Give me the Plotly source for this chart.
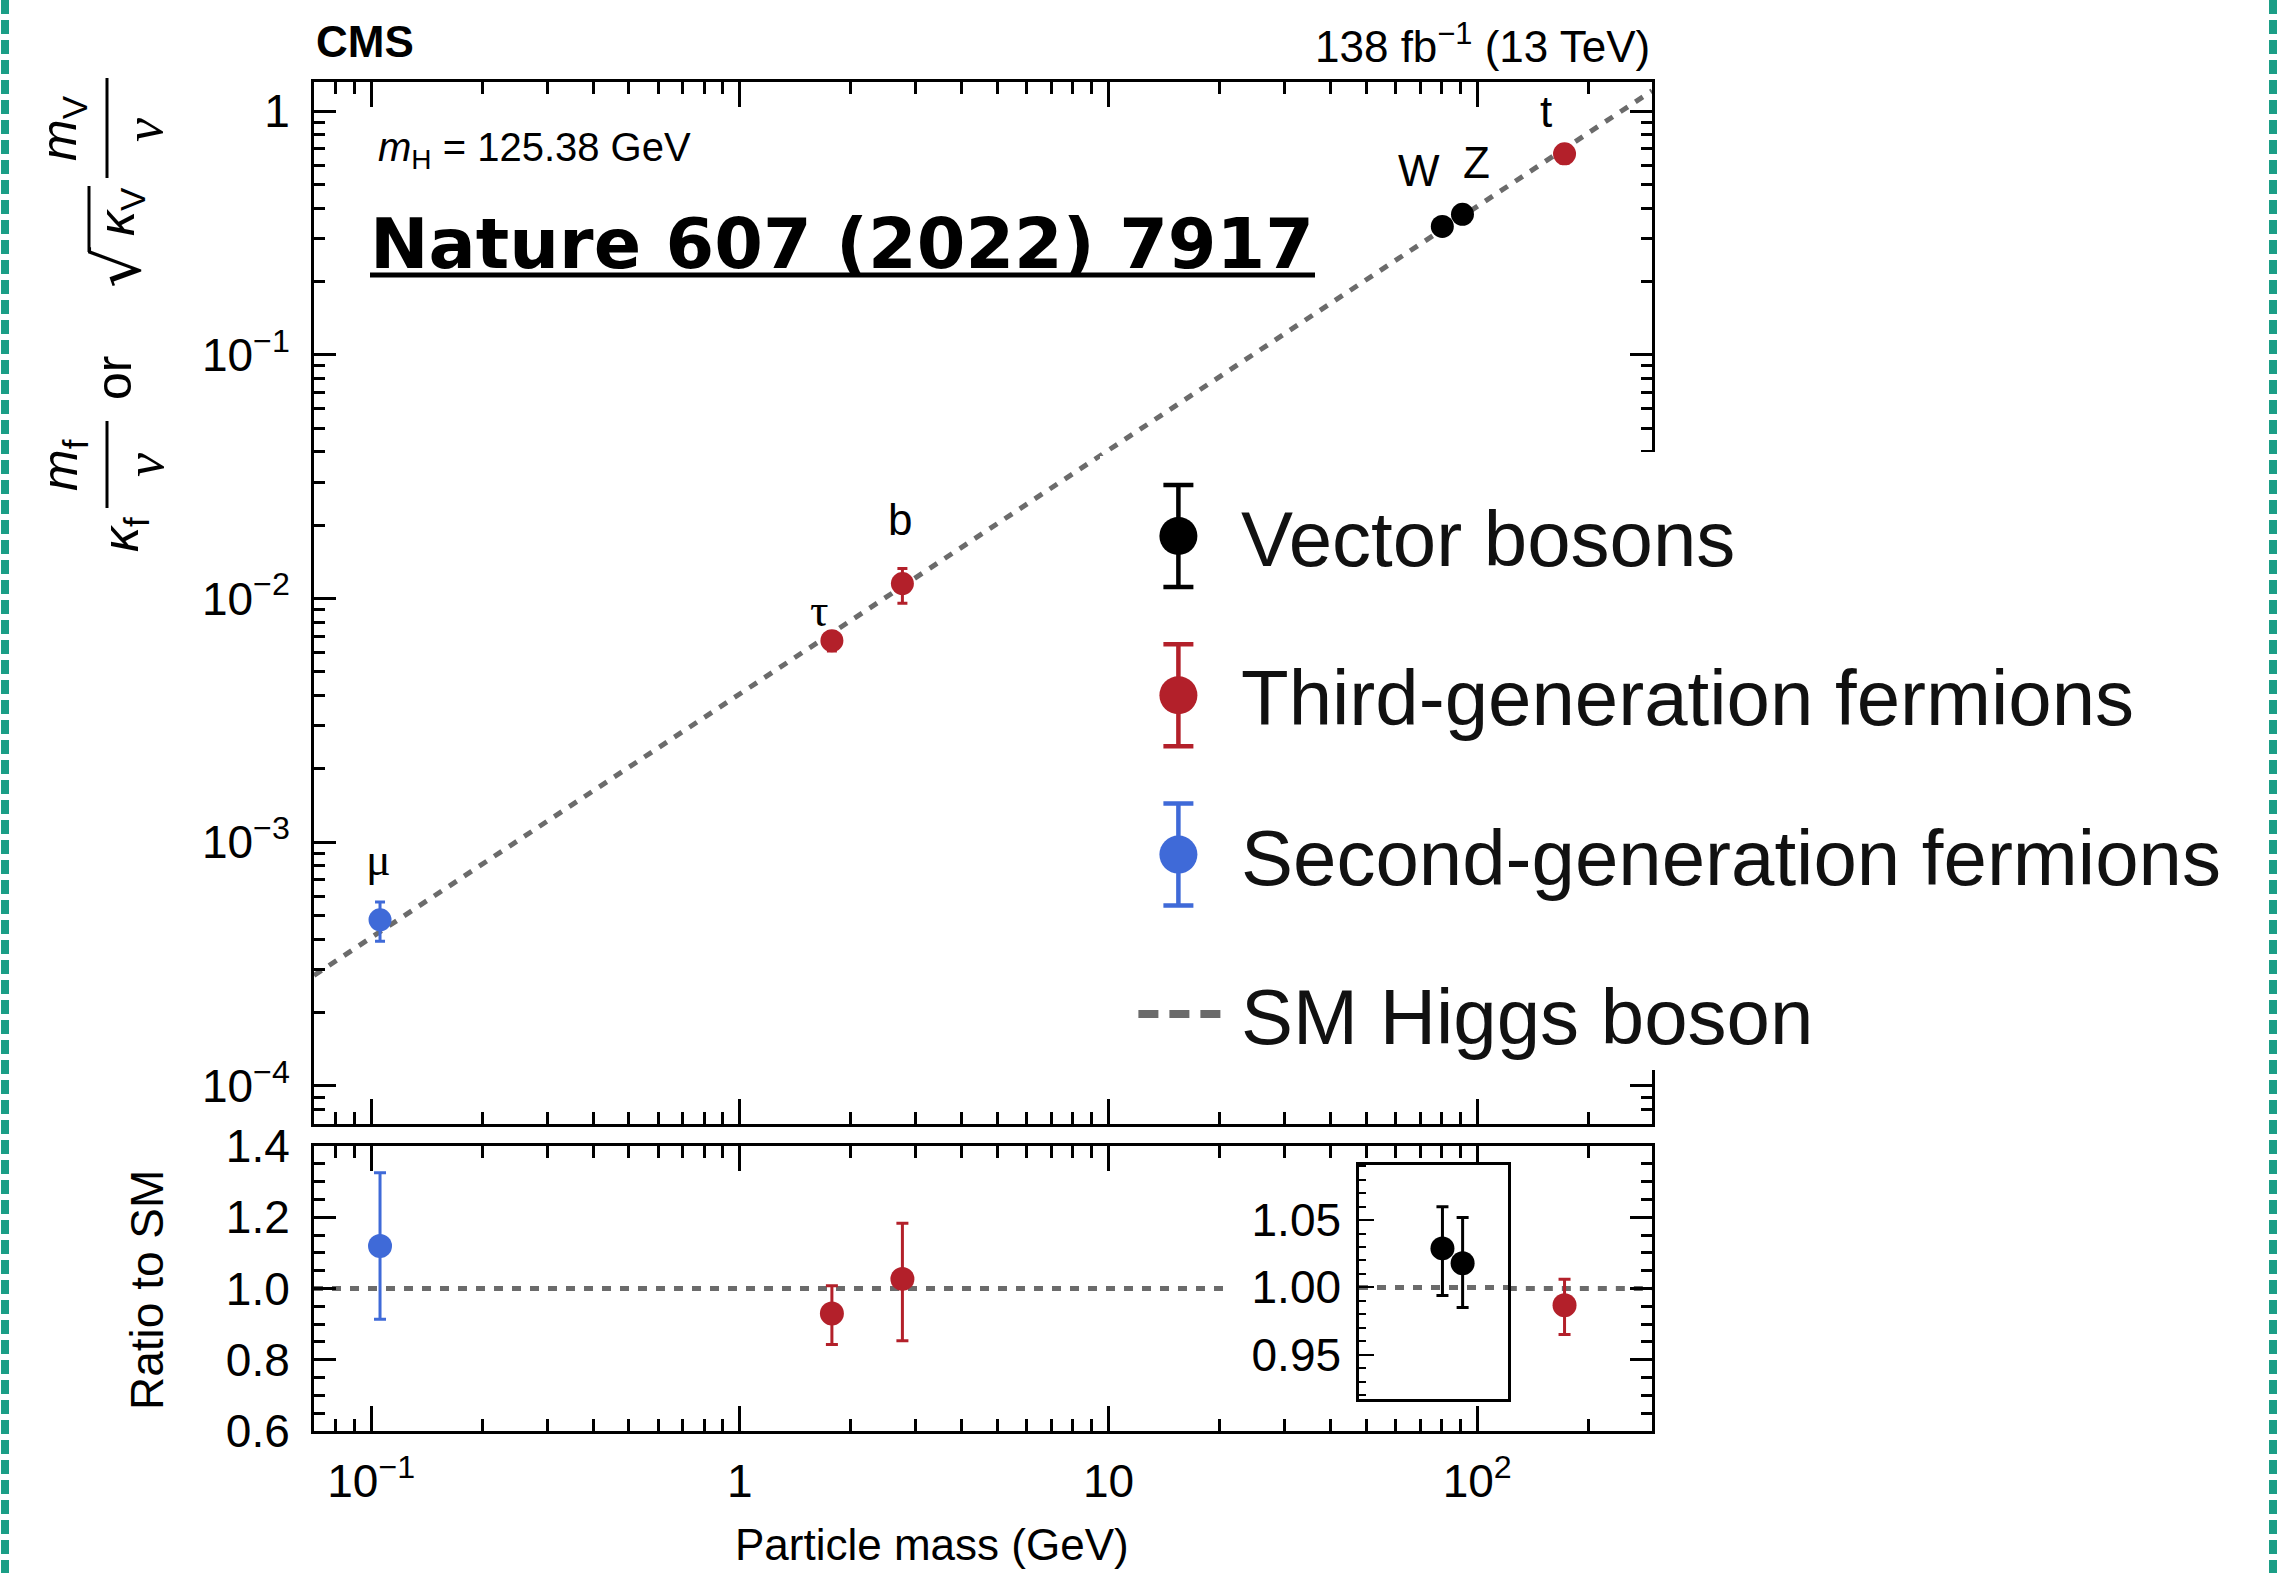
import numpy as np
import plotly.graph_objects as go

# ---------------- data ----------------
vev = 246.22  # GeV

vector_labels = ["W", "Z"]
vector_mass = [80.4, 91.19]
vector_ratio = [1.029, 1.018]
vector_err_up = [0.031, 0.034]
vector_err_down = [0.035, 0.033]

third_labels = ["τ", "b", "t"]
third_mass = [1.777, 2.76, 172.5]
third_ratio = [0.930, 1.027, 0.953]
third_err_up = [0.078, 0.156, 0.073]
third_err_down = [0.087, 0.174, 0.082]

second_labels = ["μ"]
second_mass = [0.1057]
second_ratio = [1.119]
second_err_up = [0.206]
second_err_down = [0.205]

legend_labels = ["Vector bosons", "Third-generation fermions",
                 "Second-generation fermions", "SM Higgs boson"]

x_tick_vals = [0.1, 1, 10, 100]
x_tick_text = ["10<sup>−1</sup>", "1", "10", "10<sup>2</sup>"]
y_tick_vals = [1e-4, 1e-3, 1e-2, 1e-1, 1]
y_tick_text = ["10<sup>−4</sup>", "10<sup>−3</sup>", "10<sup>−2</sup>", "10<sup>−1</sup>", "1"]
ratio_tick_vals = [0.6, 0.8, 1.0, 1.2, 1.4]
ratio_tick_text = ["0.6", "0.8", "1.0", "1.2", "1.4"]
inset_tick_vals = [0.95, 1.00, 1.05]
inset_tick_text = ["0.95", "1.00", "1.05"]

# ---------------- layout constants ----------------
W, H = 2280, 1573
L, R, T, B = 314, 628, 82, 142
PW = W - L - R
PH = H - T - B


def fx(px):
    return (px - L) / PW


def fy(py):
    return (H - B - py) / PH


X_RANGE = [-1.155, 2.474]
Y_RANGE = [-4.156, 0.119]
RATIO_RANGE = [0.6, 1.4]
INSET_X_RANGE = [1.679, 2.083]
INSET_Y_RANGE = [0.917, 1.091]
RATIO_GAP_START = 21.2  # GeV, where the ratio reference line stops before the inset labels

BLACK = "#000000"
RED = "#b3202a"
BLUE = "#3f6ad8"
GREY = "#6b6b6b"
FONT = "Liberation Sans, Arial, sans-serif"
NARROW = "Liberation Sans Narrow, Arial Narrow, Liberation Sans, sans-serif"
TICKFONT = dict(family=NARROW, size=46, color="black")


def log_minor(lo, hi):
    vals = []
    for e in range(int(np.floor(lo)) - 1, int(np.ceil(hi)) + 1):
        for d in range(2, 10):
            v = d * 10.0 ** e
            if lo + 0.01 < np.log10(v) < hi - 0.01:
                vals.append(v)
    return vals


groups = [
    dict(name=legend_labels[0], color=BLACK, labels=vector_labels, mass=vector_mass,
         ratio=vector_ratio, up=vector_err_up, dn=vector_err_down, inset=True),
    dict(name=legend_labels[1], color=RED, labels=third_labels, mass=third_mass,
         ratio=third_ratio, up=third_err_up, dn=third_err_down, inset=False),
    dict(name=legend_labels[2], color=BLUE, labels=second_labels, mass=second_mass,
         ratio=second_ratio, up=second_err_up, dn=second_err_down, inset=False),
]

fig = go.Figure()

dash_line = dict(color=GREY, width=5, dash="9px,9px")

# SM prediction in main panel: y = m / v
sm_x = [10 ** X_RANGE[0], 10 ** X_RANGE[1]]
fig.add_trace(go.Scatter(x=sm_x, y=[m / vev for m in sm_x], mode="lines",
                         line=dash_line, xaxis="x", yaxis="y", showlegend=False,
                         hoverinfo="skip"))
# SM reference in ratio panel
fig.add_trace(go.Scatter(x=[10 ** X_RANGE[0], RATIO_GAP_START, None, 10 ** INSET_X_RANGE[1], 10 ** X_RANGE[1]],
                         y=[1, 1, None, 1, 1], mode="lines", line=dash_line,
                         xaxis="x2", yaxis="y2", showlegend=False, hoverinfo="skip"))
fig.add_trace(go.Scatter(x=[10 ** INSET_X_RANGE[0], 10 ** INSET_X_RANGE[1]], y=[1, 1],
                         mode="lines", line=dash_line, xaxis="x3", yaxis="y3",
                         showlegend=False, hoverinfo="skip"))

for g in groups:
    m = np.array(g["mass"])
    r = np.array(g["ratio"])
    up = np.array(g["up"])
    dn = np.array(g["dn"])
    fig.add_trace(go.Scatter(
        x=m, y=r * m / vev, mode="markers", xaxis="x", yaxis="y", showlegend=False,
        marker=dict(color=g["color"], size=23),
        error_y=dict(type="data", array=up * m / vev, arrayminus=dn * m / vev,
                     color=g["color"], thickness=3, width=5)))
    fig.add_trace(go.Scatter(
        x=m, y=r, mode="markers",
        xaxis="x3" if g["inset"] else "x2", yaxis="y3" if g["inset"] else "y2",
        showlegend=False, marker=dict(color=g["color"], size=24),
        error_y=dict(type="data", array=up, arrayminus=dn,
                     color=g["color"], thickness=3, width=6)))

# ---------------- hand-made legend ----------------
LEG_TOP, LEG_BOT = 456, 1094      # px extent of legend axis
ROW0, ROW_STEP = 536, 159.3       # px of first row, spacing
leg_range = [(LEG_BOT - ROW0) / ROW_STEP, (LEG_TOP - ROW0) / ROW_STEP]
LEG_KEY_X = 0.49
for i, g in enumerate(groups):
    fig.add_trace(go.Scatter(x=[LEG_KEY_X], y=[i], mode="markers", xaxis="x4", yaxis="y4",
                             showlegend=False, hoverinfo="skip",
                             marker=dict(color=g["color"], size=38),
                             error_y=dict(type="constant", value=0.32, color=g["color"],
                                          thickness=4.5, width=15)))
fig.add_trace(go.Scatter(x=[0.24, 0.76], y=[3, 3], mode="lines", xaxis="x4", yaxis="y4",
                         showlegend=False, hoverinfo="skip",
                         line=dict(color=GREY, width=8, dash="20px,11px")))

annotations = []
for i, lab in enumerate(legend_labels):
    annotations.append(dict(x=fx(1239), y=fy(ROW0 + ROW_STEP * i + 3), xref="paper", yref="paper",
                            text=lab, showarrow=False, xanchor="left", yanchor="middle",
                            font=dict(family=FONT, size=78, color="#111111")))

# particle labels on main panel
label_offsets = {"μ": (-2, 60), "τ": (-12, 30), "b": (-2, 64), "t": (-19, 42),
                 "W": (-23, 56), "Z": (14, 52)}
for g in groups:
    for lab, m, r in zip(g["labels"], g["mass"], g["ratio"]):
        dx, dy = label_offsets[lab]
        serif = lab in ("μ", "τ")
        annotations.append(dict(
            x=np.log10(m), y=np.log10(r * m / vev), xref="x", yref="y", text=lab,
            showarrow=False, xshift=dx, yshift=dy, xanchor="center", yanchor="middle",
            font=dict(family="Liberation Serif, serif" if serif else FONT,
                      size=46 if serif else 44, color="black")))

# texts
annotations += [
    dict(x=fx(314), y=fy(42), xref="paper", yref="paper", text="<b>CMS</b>", showarrow=False,
         xanchor="left", yanchor="middle", font=dict(family=FONT, size=44, color="black")),
    dict(x=fx(1652), y=fy(43), xref="paper", yref="paper", text="138 fb<sup>−1</sup> (13 TeV)",
         showarrow=False, xanchor="right", yanchor="middle",
         font=dict(family=FONT, size=44, color="black")),
    dict(x=fx(376), y=fy(150), xref="paper", yref="paper",
         text="<i>m</i><sub>H</sub> = 125.38 GeV", showarrow=False, xanchor="left",
         yanchor="middle", font=dict(family=FONT, size=40, color="black")),
    dict(x=fx(842), y=fy(244), xref="paper", yref="paper", text="<b>Nature 607 (2022) 7917</b>",
         showarrow=False, xanchor="center", yanchor="middle",
         font=dict(family="DejaVu Sans, sans-serif", size=70, color="black")),
    dict(x=fx(932), y=fy(1544), xref="paper", yref="paper", text="Particle mass (GeV)",
         showarrow=False, xanchor="center", yanchor="middle",
         font=dict(family=FONT, size=44, color="black")),
    dict(x=fx(147), y=fy(1290), xref="paper", yref="paper", text="Ratio to SM",
         showarrow=False, xanchor="center", yanchor="middle", textangle=-90,
         font=dict(family=FONT, size=46, color="black")),
]

# composite y-axis title of main panel
TF = dict(family=FONT, size=50, color="black")
VF = dict(family="Liberation Serif, serif", size=54, color="black")
RF = dict(family="DejaVu Sans, sans-serif", size=64, color="black")
ytitle_parts = [
    ("<i>m</i><sub>V</sub>", 62, 128, TF),
    ("<i>v</i>", 144, 130, VF),
    ("√", 118, 268, RF),
    ("<i>κ</i><sub>V</sub>", 120, 212, TF),
    ("or", 114, 378, TF),
    ("<i>m</i><sub>f</sub>", 63, 465, TF),
    ("<i>v</i>", 145, 465, VF),
    ("<i>κ</i><sub>f</sub>", 124, 535, TF),
]
for txt, px, py, f in ytitle_parts:
    annotations.append(dict(x=fx(px), y=fy(py), xref="paper", yref="paper", text=txt,
                            showarrow=False, xanchor="center", yanchor="middle",
                            textangle=-90, font=f))

shapes = [
    # fraction bars of the y title
    dict(type="line", xref="paper", yref="paper", x0=fx(107), x1=fx(107), y0=fy(78), y1=fy(178),
         line=dict(color="black", width=3)),
    dict(type="line", xref="paper", yref="paper", x0=fx(107), x1=fx(107), y0=fy(421), y1=fy(508),
         line=dict(color="black", width=3)),
    # vinculum of the square root
    dict(type="line", xref="paper", yref="paper", x0=fx(89), x1=fx(89), y0=fy(186), y1=fy(252),
         line=dict(color="black", width=3)),
    # underline of the journal reference
    dict(type="line", xref="paper", yref="paper", x0=fx(370), x1=fx(1315), y0=fy(275), y1=fy(275),
         line=dict(color="black", width=5)),
    # legend covers part of the right frame
    dict(type="rect", xref="paper", yref="paper", x0=fx(1618), x1=fx(1664), y0=fy(1070), y1=fy(452),
         fillcolor="white", line=dict(width=0), layer="above"),
    # teal page border
    dict(type="line", xref="paper", yref="paper", x0=fx(5), x1=fx(5), y0=fy(0), y1=fy(H),
         line=dict(color="#1b9e86", width=8, dash="14px,6px")),
    dict(type="line", xref="paper", yref="paper", x0=fx(2273), x1=fx(2273), y0=fy(0), y1=fy(H),
         line=dict(color="#1b9e86", width=8, dash="14px,6px")),
]

axis_common = dict(showline=True, linecolor="black", linewidth=3, showgrid=False,
                   zeroline=False, ticks="inside", tickcolor="black", tickwidth=2.5,
                   mirror="allticks", tickfont=TICKFONT)

xminor = log_minor(*X_RANGE)
yminor = log_minor(*Y_RANGE)

fig.update_layout(
    width=W, height=H, margin=dict(l=L, r=R, t=T, b=B, pad=0),
    paper_bgcolor="white", plot_bgcolor="white", showlegend=False,
    font=dict(family=FONT, color="black"),
    xaxis=dict(axis_common, type="log", range=X_RANGE, domain=[0, 1], anchor="y",
               tickvals=x_tick_vals, ticktext=x_tick_text, ticklen=25, showticklabels=False,
               minor=dict(tickvals=xminor, ticklen=12, ticks="inside", tickwidth=2.5,
                          tickcolor="black")),
    yaxis=dict(axis_common, type="log", range=Y_RANGE, domain=[fy(1124), 1], anchor="x",
               tickvals=y_tick_vals, ticktext=y_tick_text, ticklen=22, ticklabelstandoff=12,
               minor=dict(tickvals=yminor, ticklen=11, ticks="inside", tickwidth=2.5,
                          tickcolor="black")),
    xaxis2=dict(axis_common, type="log", range=X_RANGE, domain=[0, 1], anchor="y2",
                tickvals=x_tick_vals, ticktext=x_tick_text, ticklen=25, ticklabelstandoff=8,
                minor=dict(tickvals=xminor, ticklen=12, ticks="inside", tickwidth=2.5,
                           tickcolor="black")),
    yaxis2=dict(axis_common, range=RATIO_RANGE, domain=[0, fy(1146)], anchor="x2",
                tickvals=ratio_tick_vals, ticktext=ratio_tick_text, ticklen=22,
                ticklabelstandoff=12,
                minor=dict(dtick=0.05, tick0=0.6, ticklen=11, ticks="inside", tickwidth=2.5,
                           tickcolor="black")),
    xaxis3=dict(type="log", range=INSET_X_RANGE, domain=[fx(1359), fx(1508)], anchor="y3",
                showline=True, linecolor="black", linewidth=2.5, mirror=True, ticks="",
                showticklabels=False, showgrid=False, zeroline=False),
    yaxis3=dict(range=INSET_Y_RANGE, domain=[fy(1399), fy(1165)], anchor="x3",
                showline=True, linecolor="black", linewidth=2.5, mirror=True, ticks="inside",
                tickvals=inset_tick_vals, ticktext=inset_tick_text, ticklen=15, tickwidth=2,
                tickcolor="black", tickfont=TICKFONT, ticklabelstandoff=6,
                showgrid=False, zeroline=False,
                minor=dict(dtick=0.01, tick0=0.9, ticklen=7, ticks="inside", tickwidth=2,
                           tickcolor="black")),
    xaxis4=dict(range=[0, 1], domain=[fx(1100), fx(1260)], anchor="y4", visible=False),
    yaxis4=dict(range=leg_range, domain=[fy(LEG_BOT), fy(LEG_TOP)], anchor="x4", visible=False),
    annotations=annotations,
    shapes=shapes,
)

fig.write_html("out.html")
